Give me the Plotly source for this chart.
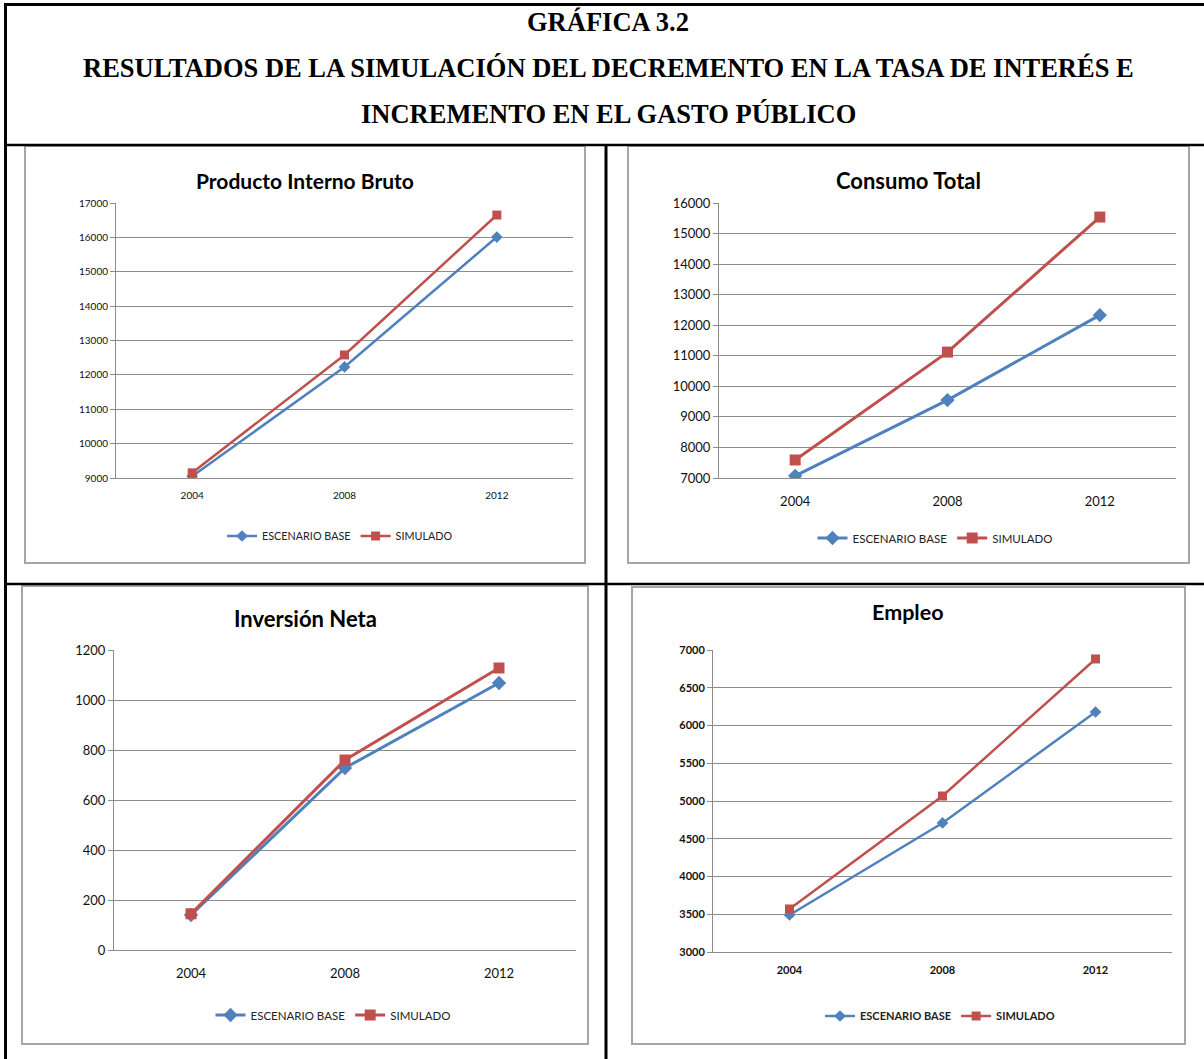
import plotly.graph_objects as go

W, H = 1204, 1059

years = ["2004", "2008", "2012"]
series_names = ["ESCENARIO BASE", "SIMULADO"]

pib_base = [9050, 12230, 16010]
pib_sim = [9150, 12580, 16650]

consumo_base = [7070, 9550, 12330]
consumo_sim = [7590, 11120, 15540]

inversion_base = [140, 728, 1068]
inversion_sim = [145, 760, 1128]

empleo_base = [3490, 4709, 6179]
empleo_sim = [3570, 5066, 6881]

pib_ticks = [9000, 10000, 11000, 12000, 13000, 14000, 15000, 16000, 17000]
consumo_ticks = [7000, 8000, 9000, 10000, 11000, 12000, 13000, 14000, 15000, 16000]
inversion_ticks = [0, 200, 400, 600, 800, 1000, 1200]
empleo_ticks = [3000, 3500, 4000, 4500, 5000, 5500, 6000, 6500, 7000]

chart_titles = ["Producto Interno Bruto", "Consumo Total", "Inversión Neta", "Empleo"]
main_title = ["GRÁFICA 3.2",
              "RESULTADOS DE LA SIMULACIÓN DEL DECREMENTO EN LA TASA DE INTERÉS E",
              "INCREMENTO EN EL GASTO PÚBLICO"]

BLUE = "#4F81BD"
RED = "#C0504D"
NARROW = "Liberation Sans Narrow, Arial Narrow, Lato, sans-serif"
NORMAL = "Lato, Calibri, sans-serif"


def px(x):
    return x / W


def py(y):
    return 1 - y / H


panels = [
    dict(base=pib_base, sim=pib_sim, title=chart_titles[0], ticks=pib_ticks,
         area=(116, 573, 203, 478), tpos=(305, 180), tsize=21, tfont=NORMAL,
         lpos=(340, 536), fs=10, lfs=10.8, ffont=NORMAL, lw=2.5, ms=9, bold=False,
         standoff=8),
    dict(base=consumo_base, sim=consumo_sim, title=chart_titles[1], ticks=consumo_ticks,
         area=(719, 1176, 203, 478), tpos=(908, 180), tsize=22, tfont=NARROW,
         lpos=(935, 538), fs=13, lfs=11.5, ffont=NARROW, lw=3, ms=11, bold=False,
         standoff=11),
    dict(base=inversion_base, sim=inversion_sim, title=chart_titles[2], ticks=inversion_ticks,
         area=(114, 576, 650, 950), tpos=(305, 618), tsize=22, tfont=NARROW,
         lpos=(333, 1015), fs=13, lfs=11.5, ffont=NARROW, lw=3, ms=11, bold=False,
         standoff=11),
    dict(base=empleo_base, sim=empleo_sim, title=chart_titles[3], ticks=empleo_ticks,
         area=(713, 1172, 650, 952), tpos=(908, 612), tsize=21.5, tfont=NORMAL,
         lpos=(940, 1016), fs=11, lfs=11, ffont=NORMAL, lw=2.5, ms=9, bold=True,
         standoff=8),
]

fig = go.Figure()
layout = dict()
annotations = []
shapes = []

for i, p in enumerate(panels):
    n = "" if i == 0 else str(i + 1)
    lg = "legend" + n
    x0, x1, y0, y1 = p["area"]
    tickfont = dict(family=p["ffont"], size=p["fs"], color="#111111")
    if p["bold"]:
        tickfont["weight"] = "bold"
    fig.add_trace(go.Scatter(
        x=years, y=p["base"], name=series_names[0], mode="lines+markers",
        line=dict(color=BLUE, width=p["lw"]),
        marker=dict(symbol="diamond", size=p["ms"], color=BLUE),
        xaxis="x" + n, yaxis="y" + n, legend=lg))
    fig.add_trace(go.Scatter(
        x=years, y=p["sim"], name=series_names[1], mode="lines+markers",
        line=dict(color=RED, width=p["lw"]),
        marker=dict(symbol="square", size=p["ms"], color=RED),
        xaxis="x" + n, yaxis="y" + n, legend=lg))
    layout["xaxis" + n] = dict(
        domain=[px(x0), px(x1)], anchor="y" + n, type="category",
        range=[-0.5, 2.5], showgrid=False, showline=True, linecolor="#8c8c8c",
        linewidth=1, ticks="", tickfont=tickfont, zeroline=False, fixedrange=True,
        automargin=False, ticklabelstandoff=p["standoff"])
    layout["yaxis" + n] = dict(
        domain=[py(y1), py(y0)], anchor="x" + n,
        range=[p["ticks"][0], p["ticks"][-1]],
        tickmode="array", tickvals=p["ticks"], ticktext=[str(t) for t in p["ticks"]],
        showgrid=True, gridcolor="#8c8c8c", gridwidth=1,
        showline=True, linecolor="#8c8c8c", linewidth=1, ticks="outside",
        ticklen=5, tickcolor="#8c8c8c", tickfont=tickfont, zeroline=False,
        fixedrange=True, automargin=False)
    lfont = dict(family=p["ffont"], size=p["lfs"], color="#222222")
    if p["bold"]:
        lfont["weight"] = "bold"
    layout[lg] = dict(orientation="h", x=px(p["lpos"][0]), y=py(p["lpos"][1]),
                      xanchor="center", yanchor="middle", font=lfont,
                      bgcolor="rgba(0,0,0,0)", itemwidth=30, tracegroupgap=0)
    annotations.append(dict(
        text="<b>" + p["title"] + "</b>", x=px(p["tpos"][0]), y=py(p["tpos"][1]),
        xref="paper", yref="paper", xanchor="center", yanchor="middle",
        showarrow=False, font=dict(family=p["tfont"], size=p["tsize"], color="#000000")))

for t, yy in zip(main_title, [22, 68, 114]):
    annotations.append(dict(
        text="<b>" + t + "</b>", x=px(608), y=py(yy), xref="paper", yref="paper",
        xanchor="center", yanchor="middle", showarrow=False,
        font=dict(family="Liberation Serif, Times New Roman, serif", size=26.5, color="#000000")))

# chart frames (gray)
for (a, b, c, d) in [(25, 585, 146, 563), (628, 1189, 146, 563),
                     (22, 588, 586, 1044), (632, 1185, 587, 1044)]:
    shapes.append(dict(type="rect", xref="paper", yref="paper",
                       x0=px(a), x1=px(b), y0=py(d), y1=py(c),
                       line=dict(color="#a6a6a6", width=2), fillcolor="white",
                       layer="below"))


def hline(y, xa, xb, w):
    shapes.append(dict(type="line", xref="paper", yref="paper", x0=px(xa), x1=px(xb),
                       y0=py(y), y1=py(y), line=dict(color="black", width=w)))


def vline(x, ya, yb, w):
    shapes.append(dict(type="line", xref="paper", yref="paper", x0=px(x), x1=px(x),
                       y0=py(ya), y1=py(yb), line=dict(color="black", width=w)))


hline(4.5, 4, 1204, 3)
vline(5.5, 3, 1059, 3)
hline(145, 5, 1204, 2.5)
vline(606, 145, 1059, 3)
hline(584, 5, 1204, 2.5)

fig.update_layout(
    width=W, height=H, margin=dict(l=0, r=0, t=0, b=0, pad=0, autoexpand=False),
    paper_bgcolor="white", plot_bgcolor="rgba(0,0,0,0)",
    annotations=annotations, shapes=shapes, showlegend=True, **layout)

fig.write_html("out.html")
